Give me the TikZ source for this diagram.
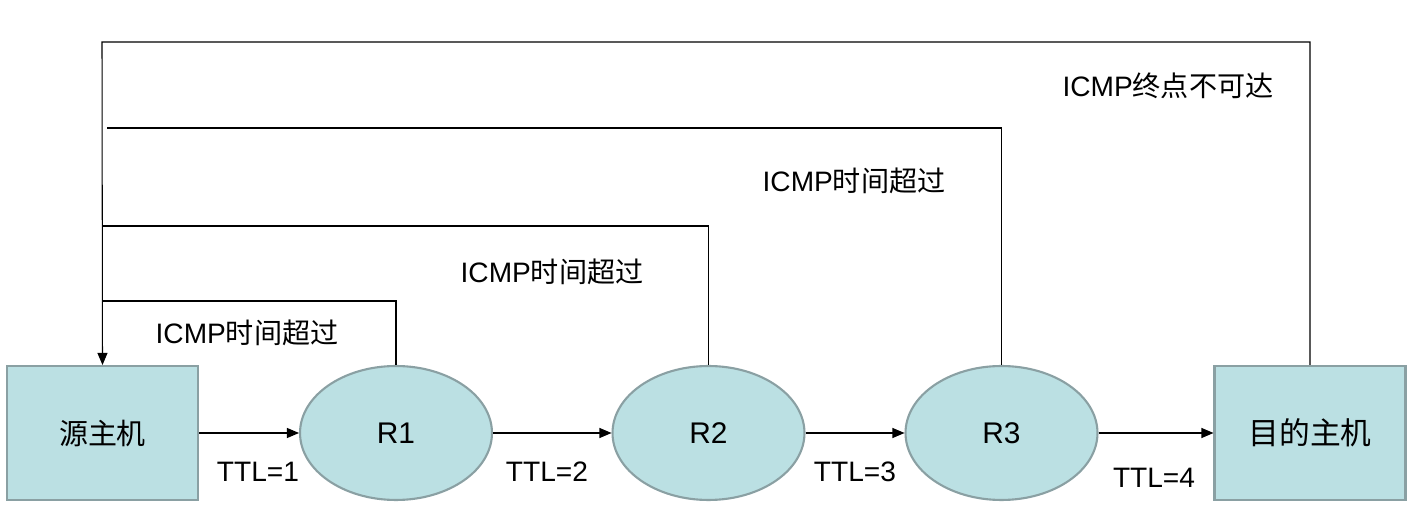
\documentclass[tikz,border=0pt]{standalone}
\usepackage{fontspec}
\setmainfont{Liberation Sans}
\newfontfamily\cjk{Noto Sans CJK SC}
\usetikzlibrary{arrows.meta,shapes.geometric}

\definecolor{boxfill}{RGB}{187,224,227}
\definecolor{boxline}{RGB}{138,160,163}

\begin{document}
\begin{tikzpicture}[x=0.02cm,y=-0.02cm,>={Triangle[length=0.24cm,width=0.2cm]},line width=0.6pt,
                    host node/.style={rectangle,draw=boxline,fill=boxfill,line width=1.2pt,
                                      minimum width=3.82cm,minimum height=2.68cm,font=\fontsize{16.5}{18}\selectfont},
                    router node/.style={ellipse,draw=boxline,fill=boxfill,line width=1.2pt,inner sep=0pt,
                                        minimum width=3.84cm,minimum height=2.68cm,font=\fontsize{17}{20}\selectfont},
                    label node/.style={font=\fontsize{16}{18}\selectfont}]
  \useasboundingbox (0,0) rectangle (1416,519);

  \node[host node] (src) at (102.5,433) {\cjk 源主机};
  \node[router node] (r1) at (396,433) {R1};
  \node[router node] (r2) at (708.5,433) {R2};
  \node[router node] (r3) at (1001.5,433) {R3};
  \node[host node] (dst) at (1310,433) {\cjk\fontsize{17.5}{20}\selectfont 目的主机};

  \node[label node] (ttl1) at (258,472) {TTL=1};
  \node[label node] (ttl2) at (547,472) {TTL=2};
  \node[label node] (ttl3) at (855,472) {TTL=3};
  \node[label node] (ttl4) at (1154,478) {TTL=4};

  \node[label node] (icmp1) at (247,333) {ICMP{\cjk 时间超过}};
  \node[label node] (icmp2) at (552,272) {ICMP{\cjk 时间超过}};
  \node[label node] (icmp3) at (854,181) {ICMP{\cjk 时间超过}};
  \node[label node] (icmp4) at (1168,86) {ICMP{\cjk 终点不可达}};

  \coordinate (top1) at (102,301);
  \coordinate (top2) at (102,226);
  \coordinate (top3) at (107,128);
  \coordinate (top4) at (102,42);

  % forward path
  \draw[->] (src) -- (r1);
  \draw[->] (r1) -- (r2);
  \draw[->] (r2) -- (r3);
  \draw[->] (r3) -- (dst);

  % replies
  \draw (r1.north) |- (top1);
  \draw (r2.north) |- (top2);
  \draw (r3.north) |- (top3);
  \draw[->] (dst.north) |- (top4) -- (src.north);
\end{tikzpicture}
\end{document}
